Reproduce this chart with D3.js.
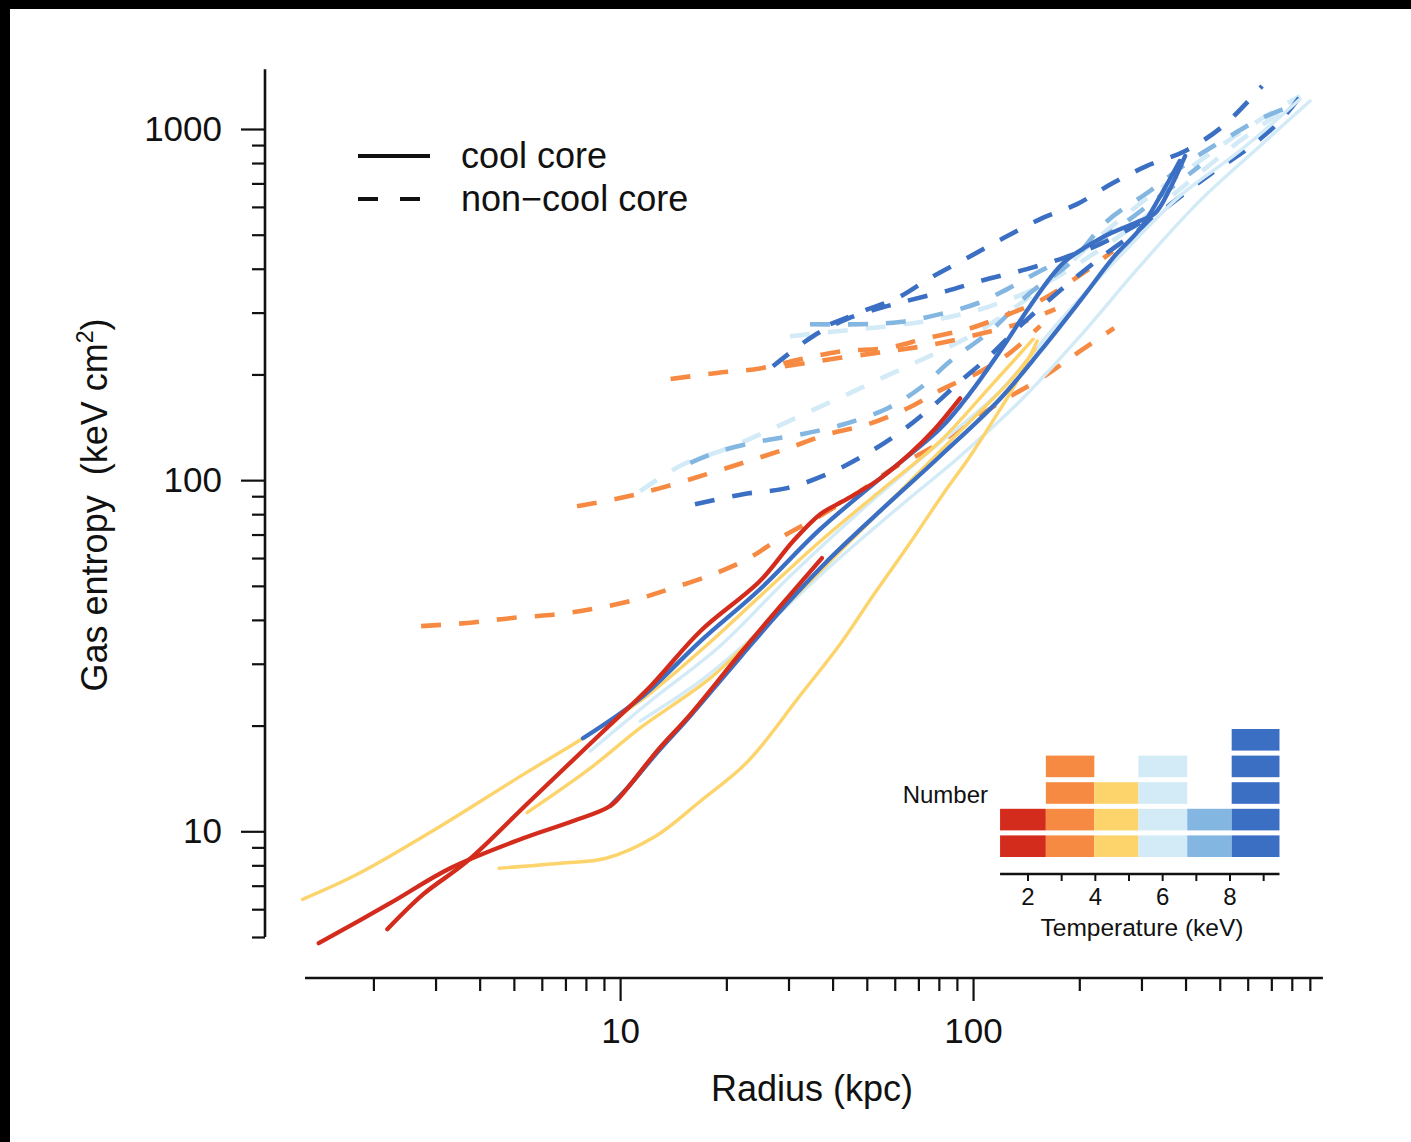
<!DOCTYPE html>
<html>
<head>
<meta charset="utf-8">
<script src="https://cdn.jsdelivr.net/npm/d3@7"></script>
<style>
  html, body { margin: 0; padding: 0; background: #fff; }
  svg { display: block; }
  text { font-family: "Liberation Sans", Arial, Helvetica, sans-serif; fill: #111; }
</style>
</head>
<body>
<svg id="chart" width="1411" height="1142"></svg>
<script>
// Entropy profiles: [radius (kpc), entropy (keV cm^2)]
// cool-core clusters (solid)
const red_cc_a    = [[1.40,4.80],[2.23,6.24],[3.30,7.85],[5.31,9.55],[7.36,10.7],[9.37,11.8],[10.5,13.3],[12.7,16.9],[15.8,21.5],[21.9,32.1],[28.4,43.7],[37.3,60.0]];
const red_cc_b    = [[2.19,5.26],[2.77,6.62],[3.69,8.22],[5.56,12.2],[8.78,18.9],[12.2,25.9],[16.9,37.2],[24.9,51.6],[30.9,67.0],[36.9,80.0],[42.8,87.1],[47.9,93.0],[54.5,101],[66.3,119],[77.0,138],[91.9,171]];
const yellow_cc_a = [[1.26,6.40],[1.80,7.54],[3.03,10.2],[5.31,14.5],[7.85,18.4],[11.4,23.5],[17.2,33.2],[24.9,46.7],[36.9,67.0],[54.5,93.0],[80.6,129],[112,185],[148,252]];
const yellow_cc_b = [[5.45,11.3],[8.22,15.1],[11.4,19.7],[18.0,27.3],[24.9,37.2],[36.9,55.1],[51.1,76.4],[70.8,106],[98.1,147],[127,191],[150,236]];
const yellow_cc_c = [[4.54,7.85],[6.76,8.11],[9.13,8.38],[12.6,9.68],[16.9,12.2],[23.0,15.8],[32.6,24.6],[42.0,34.1],[52.4,47.3],[65.9,65.7],[82.2,91.2],[98.1,117],[115,150],[132,188],[152,249]];
const light_cc_a  = [[8.22,16.9],[12.2,23.5],[19.2,33.7],[30.3,53.3],[47.9,81.6],[75.5,121],[119,179],[176,284],[261,435],[385,644],[570,866],[844,1218]];
const light_cc_b  = [[11.4,20.6],[16.9,26.8],[24.9,37.2],[39.4,56.9],[62.1,84.3],[91.9,117],[136,168],[201,257],[297,407],[439,624],[650,894],[901,1202]];
const blue_cc_a   = [[7.85,18.4],[11.4,23.9],[16.9,34.8],[24.9,48.9],[36.9,72.5],[54.5,101],[80.6,140],[98.1,177],[122,241],[145,313],[180,415],[233,492],[291,543],[328,576],[361,675],[399,838]];
const blue_cc_b   = [[9.37,11.8],[10.5,13.3],[12.7,16.7],[15.8,21.3],[21.9,31.3],[28.4,42.3],[38.1,58.0],[54.5,81.6],[80.6,117],[119,170],[155,233],[201,324],[252,435],[297,519],[339,644],[385,811]];

// non-cool-core clusters (dashed)
const orange_ncc_a = [[2.73,38.4],[3.69,39.2],[4.94,40.5],[6.63,41.5],[8.61,43.2],[11.2,45.8],[14.1,49.3],[18.4,54.0],[23.2,60.0],[28.4,68.4],[35.9,77.9],[47.9,93.0],[59.3,108],[75.5,123],[96.8,145],[121,168],[156,195],[201,233],[251,271]];
const orange_ncc_b = [[7.55,84.3],[10.0,88.9],[13.0,94.9],[17.6,104],[22.9,113],[29.7,123],[38.6,135],[50.1,144],[65.0,160],[82.2,182],[105,204],[127,230],[155,275]];
const orange_ncc_c = [[13.9,194],[18.8,202],[24.9,208],[32.4,221],[42.8,233],[57.1,238],[74.1,254],[96.2,269],[122,293],[158,328],[205,389],[249,449]];
const orange_ncc_d = [[29.3,211],[42.0,223],[58.2,233],[78.1,244],[105,261],[136,280],[171,307]];
const light_ncc_a  = [[11.4,93.0],[15.1,111],[20.1,123],[26.1,138],[34.5,157],[44.8,177],[59.3,202],[75.5,226],[98.1,257],[127,303],[165,369],[229,495],[317,644],[439,811],[609,1020],[844,1242]];
const light_ncc_b  = [[30.3,257],[42.0,266],[58.2,275],[80.6,288],[112,313],[155,357],[215,435],[297,547],[412,711],[570,925],[791,1163]];
const mid_ncc_a    = [[15.8,112],[19.2,121],[24.9,129],[32.4,135],[42.8,144],[57.1,160],[70.8,183],[86.1,218],[112,266],[145,341],[188,415],[240,547],[317,666],[412,811],[524,942],[650,1068],[828,1178]];
const mid_ncc_b    = [[34.5,278],[47.9,278],[62.1,282],[80.6,297],[103,319],[125,350],[155,394],[201,449],[261,529],[339,644],[439,785]];
const blue_ncc_a   = [[39.4,278],[48.8,303],[60.9,330],[75.5,376],[96.2,429],[122,489],[155,554],[197,611],[249,702],[311,785],[399,866],[511,1020],[659,1326]];
const blue_ncc_b   = [[16.3,85.4],[22.3,91.2],[29.7,94.9],[38.6,104],[47.9,116],[60.9,135],[75.5,160],[91.9,191],[110,223],[136,275],[176,346],[229,429],[297,519],[373,624],[475,749],[598,877],[741,1054],[889,1326]];
const blue_ncc_c   = [[27.1,211],[35.2,257],[44.0,288],[54.5,309],[65.0,324],[84.4,346],[105,369],[142,399],[180,429],[229,470],[297,540]];

// Temperature histogram of the sample
const tempBinEdges  = [1.17, 2.53, 3.97, 5.28, 6.73, 8.05, 9.47];
const clusterCounts = [2, 4, 3, 4, 2, 5];
const tempTicks      = [2, 3, 4, 5, 6, 7, 8, 9];
const tempTickLabels = [2, 4, 6, 8];

// Axis ticks
const radiusMajor  = [10, 100];
const radiusMinor  = [2,3,4,5,6,7,8,9, 20,30,40,50,60,70,80,90, 200,300,400,500,600,700,800,900];
const entropyMajor = [10, 100, 1000];
const entropyMinor = [5,6,7,8,9, 20,30,40,50,60,70,80,90, 200,300,400,500,600,700,800,900];

// Temperature-bin palette (cool -> hot)
const binColors = ["#d42c1c", "#f78a42", "#fdd46c", "#d3eaf7", "#83b6e0", "#3b6fc3"];

// profile table: which temperature bin and core type each curve belongs to
const profiles = [
  {pts: light_ncc_a,  bin: 3, cool: false},
  {pts: light_ncc_b,  bin: 3, cool: false},
  {pts: mid_ncc_a,    bin: 4, cool: false},
  {pts: mid_ncc_b,    bin: 4, cool: false},
  {pts: orange_ncc_a, bin: 1, cool: false},
  {pts: orange_ncc_b, bin: 1, cool: false},
  {pts: orange_ncc_c, bin: 1, cool: false},
  {pts: orange_ncc_d, bin: 1, cool: false},
  {pts: blue_ncc_a,   bin: 5, cool: false},
  {pts: blue_ncc_b,   bin: 5, cool: false},
  {pts: blue_ncc_c,   bin: 5, cool: false},
  {pts: light_cc_a,   bin: 3, cool: true},
  {pts: light_cc_b,   bin: 3, cool: true},
  {pts: yellow_cc_a,  bin: 2, cool: true},
  {pts: yellow_cc_b,  bin: 2, cool: true},
  {pts: yellow_cc_c,  bin: 2, cool: true},
  {pts: blue_cc_a,    bin: 5, cool: true},
  {pts: blue_cc_b,    bin: 5, cool: true},
  {pts: red_cc_a,     bin: 0, cool: true},
  {pts: red_cc_b,     bin: 0, cool: true}
];

const svg = d3.select("#chart");

// frame edges of the page
svg.append("rect").attr("x", 0).attr("y", 0).attr("width", 1411).attr("height", 9).attr("fill", "#000");
svg.append("rect").attr("x", 0).attr("y", 0).attr("width", 10).attr("height", 1142).attr("fill", "#000");

const x = d3.scaleLog().domain([1.28, 1000]).range([305, 1326]);
const y = d3.scaleLog().domain([5, 1000]).range([937, 129]);

const axisColor = "#111";

// ---- y axis ----
const gy = svg.append("g").attr("transform", "translate(265,0)");
gy.append("line").attr("x1", 0).attr("x2", 0).attr("y1", y(5)).attr("y2", y(1480))
  .attr("stroke", axisColor).attr("stroke-width", 2.6);
const gyMinor = gy.append("g").call(d3.axisLeft(y).tickValues(entropyMinor).tickSize(13).tickFormat(""));
const gyMajor = gy.append("g").call(d3.axisLeft(y).tickValues(entropyMajor).tickSize(24).tickPadding(19).tickFormat(d3.format("d")));
[gyMinor, gyMajor].forEach(g => {
  g.select(".domain").remove();
  g.selectAll(".tick line").attr("stroke", axisColor).attr("stroke-width", 2.2);
});
gyMajor.selectAll(".tick text").attr("font-size", 35).attr("fill", "#111")
  .attr("font-family", "'Liberation Sans', Arial, sans-serif");

// ---- x axis ----
const gx = svg.append("g").attr("transform", "translate(0,978)");
gx.append("line").attr("x1", x(1.28)).attr("x2", x(980)).attr("y1", 0).attr("y2", 0)
  .attr("stroke", axisColor).attr("stroke-width", 2.6);
const gxMinor = gx.append("g").call(d3.axisBottom(x).tickValues(radiusMinor).tickSize(13).tickFormat(""));
const gxMajor = gx.append("g").call(d3.axisBottom(x).tickValues(radiusMajor).tickSize(23).tickPadding(17).tickFormat(d3.format("d")));
[gxMinor, gxMajor].forEach(g => {
  g.select(".domain").remove();
  g.selectAll(".tick line").attr("stroke", axisColor).attr("stroke-width", 2.2);
});
gxMajor.selectAll(".tick text").attr("font-size", 35).attr("fill", "#111")
  .attr("font-family", "'Liberation Sans', Arial, sans-serif");

// axis titles
svg.append("text").attr("x", 812).attr("y", 1101).attr("text-anchor", "middle")
  .attr("font-size", 36).text("Radius (kpc)");
const yt = svg.append("text").attr("transform", "translate(107,505) rotate(-90)")
  .attr("text-anchor", "middle").attr("font-size", 36);
yt.append("tspan").text("Gas entropy\u00a0\u00a0(keV cm");
yt.append("tspan").attr("font-size", 23).attr("dy", -14).text("2");
yt.append("tspan").attr("dy", 14).text(")");

// ---- profiles ----
const line = d3.line()
  .x(d => x(d[0]))
  .y(d => y(d[1]))
  .curve(d3.curveCatmullRom.alpha(0.5));

const widthFor = p => {
  if (!p.cool) return 4.6;
  if (p.bin === 2 || p.bin === 3) return 3.4;
  return 4.3;
};

svg.append("g").selectAll("path.profile").data(profiles).join("path")
  .attr("class", "profile")
  .attr("d", p => line(p.pts))
  .attr("fill", "none")
  .attr("stroke", p => binColors[p.bin])
  .attr("stroke-width", widthFor)
  .attr("stroke-linecap", p => p.cool ? "round" : "butt")
  .attr("stroke-linejoin", "round")
  .attr("stroke-dasharray", p => p.cool ? null : "20 18");

// ---- legend ----
const lg = svg.append("g");
lg.append("line").attr("x1", 358).attr("x2", 430).attr("y1", 156).attr("y2", 156)
  .attr("stroke", "#111").attr("stroke-width", 4);
lg.append("line").attr("x1", 358).attr("x2", 421).attr("y1", 199).attr("y2", 199)
  .attr("stroke", "#111").attr("stroke-width", 4).attr("stroke-dasharray", "20 22");
lg.append("text").attr("x", 461).attr("y", 168).attr("font-size", 36).text("cool core");
lg.append("text").attr("x", 461).attr("y", 211).attr("font-size", 36).text("non\u2212cool core");

// ---- temperature histogram inset ----
const tx = d3.scaleLinear().domain([2, 8]).range([1028, 1230]);
const ny = d3.scaleLinear().domain([0, 5]).range([859.5, 726.5]);
const gap = 5;

const cells = [];
clusterCounts.forEach((n, i) => {
  for (let k = 0; k < n; k++) cells.push({bin: i, k: k});
});
const hist = svg.append("g");
hist.selectAll("rect").data(cells).join("rect")
  .attr("x", d => tx(tempBinEdges[d.bin]))
  .attr("width", d => tx(tempBinEdges[d.bin + 1]) - tx(tempBinEdges[d.bin]))
  .attr("y", d => ny(d.k + 1) + gap / 2)
  .attr("height", d => ny(d.k) - ny(d.k + 1) - gap)
  .attr("fill", d => binColors[d.bin]);

const gt = hist.append("g").attr("transform", "translate(0,874)");
gt.append("line").attr("x1", tx(tempBinEdges[0])).attr("x2", tx(tempBinEdges[tempBinEdges.length - 1]))
  .attr("stroke", "#111").attr("stroke-width", 2.4);
gt.selectAll("line.tt").data(tempTicks).join("line").attr("class", "tt")
  .attr("x1", d => tx(d)).attr("x2", d => tx(d)).attr("y1", 0).attr("y2", 7)
  .attr("stroke", "#111").attr("stroke-width", 2);
gt.selectAll("text").data(tempTickLabels).join("text")
  .attr("x", d => tx(d)).attr("y", 31).attr("text-anchor", "middle")
  .attr("font-size", 24).text(d => d);
hist.append("text").attr("x", 1142).attr("y", 936).attr("text-anchor", "middle")
  .attr("font-size", 24.5).text("Temperature (keV)");
hist.append("text").attr("x", 988).attr("y", 803).attr("text-anchor", "end")
  .attr("font-size", 24).text("Number");
</script>
</body>
</html>
